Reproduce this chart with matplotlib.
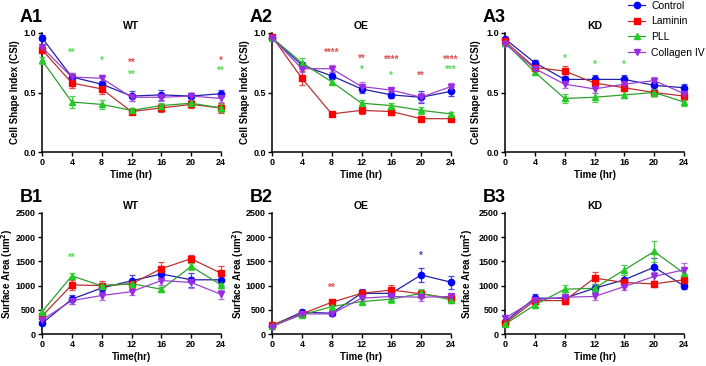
import matplotlib
matplotlib.use("Agg")
import matplotlib.pyplot as plt
from matplotlib.lines import Line2D

plt.rcParams['font.family'] = ['Liberation Sans', 'DejaVu Sans']
plt.rcParams['font.weight'] = 'bold'

time = [0, 4, 8, 12, 16, 20, 24]
series = ['Control', 'Laminin', 'PLL', 'Collagen IV']

# Cell shape index (A row)
csi_wt = {
    'Control':     [0.96, 0.63, 0.57, 0.47, 0.48, 0.47, 0.49],
    'Laminin':     [0.86, 0.58, 0.53, 0.34, 0.37, 0.40, 0.37],
    'PLL':         [0.77, 0.42, 0.40, 0.35, 0.39, 0.41, 0.37],
    'Collagen IV': [0.88, 0.63, 0.62, 0.46, 0.46, 0.47, 0.45],
}
csi_wt_err = {
    'Control':     [0.02, 0.03, 0.03, 0.04, 0.04, 0.03, 0.03],
    'Laminin':     [0.03, 0.04, 0.04, 0.02, 0.03, 0.03, 0.04],
    'PLL':         [0.03, 0.05, 0.04, 0.02, 0.02, 0.02, 0.03],
    'Collagen IV': [0.03, 0.03, 0.03, 0.03, 0.03, 0.03, 0.03],
}
csi_oe = {
    'Control':     [0.96, 0.73, 0.64, 0.53, 0.48, 0.46, 0.51],
    'Laminin':     [0.97, 0.62, 0.32, 0.35, 0.34, 0.28, 0.28],
    'PLL':         [0.96, 0.75, 0.59, 0.41, 0.39, 0.35, 0.32],
    'Collagen IV': [0.96, 0.70, 0.70, 0.55, 0.52, 0.46, 0.55],
}
csi_oe_err = {
    'Control':     [0.02, 0.03, 0.03, 0.03, 0.03, 0.05, 0.04],
    'Laminin':     [0.02, 0.06, 0.02, 0.03, 0.03, 0.02, 0.02],
    'PLL':         [0.02, 0.04, 0.02, 0.03, 0.02, 0.03, 0.02],
    'Collagen IV': [0.02, 0.03, 0.03, 0.04, 0.02, 0.04, 0.03],
}
csi_kd = {
    'Control':     [0.95, 0.75, 0.61, 0.61, 0.61, 0.56, 0.54],
    'Laminin':     [0.93, 0.71, 0.68, 0.58, 0.54, 0.50, 0.47],
    'PLL':         [0.92, 0.67, 0.45, 0.46, 0.48, 0.50, 0.42],
    'Collagen IV': [0.91, 0.70, 0.57, 0.53, 0.57, 0.60, 0.49],
}
csi_kd_err = {
    'Control':     [0.02, 0.02, 0.03, 0.04, 0.04, 0.03, 0.03],
    'Laminin':     [0.02, 0.03, 0.04, 0.04, 0.03, 0.03, 0.03],
    'PLL':         [0.02, 0.02, 0.04, 0.04, 0.03, 0.03, 0.03],
    'Collagen IV': [0.02, 0.02, 0.03, 0.03, 0.03, 0.03, 0.02],
}

# Surface area (B row)
area_wt = {
    'Control':     [220, 720, 950, 1100, 1240, 1120, 1120],
    'Laminin':     [370, 1015, 1000, 1035, 1350, 1555, 1255],
    'PLL':         [460, 1200, 995, 1040, 925, 1395, 1015],
    'Collagen IV': [290, 690, 795, 875, 1105, 1065, 820],
}
area_wt_err = {
    'Control':     [40, 90, 80, 120, 90, 150, 110],
    'Laminin':     [50, 100, 90, 80, 140, 80, 160],
    'PLL':         [50, 70, 60, 70, 50, 80, 110],
    'Collagen IV': [40, 70, 100, 60, 100, 110, 90],
}
area_oe = {
    'Control':     [175, 450, 430, 840, 840, 1220, 1070],
    'Laminin':     [185, 415, 655, 840, 910, 830, 740],
    'PLL':         [175, 395, 565, 670, 720, 840, 705],
    'Collagen IV': [150, 415, 415, 740, 775, 760, 775],
}
area_oe_err = {
    'Control':     [30, 40, 40, 80, 70, 140, 130],
    'Laminin':     [30, 40, 50, 60, 100, 80, 60],
    'PLL':         [30, 40, 50, 60, 80, 90, 60],
    'Collagen IV': [30, 40, 40, 50, 60, 80, 60],
}
area_kd = {
    'Control':     [255, 740, 740, 945, 1120, 1380, 995],
    'Laminin':     [220, 690, 690, 1155, 1065, 1035, 1120],
    'PLL':         [200, 600, 925, 945, 1325, 1705, 1255],
    'Collagen IV': [325, 705, 760, 775, 980, 1190, 1325],
}
area_kd_err = {
    'Control':     [40, 80, 70, 80, 100, 180, 70],
    'Laminin':     [40, 60, 80, 120, 90, 60, 80],
    'PLL':         [40, 60, 90, 90, 110, 220, 110],
    'Collagen IV': [40, 60, 70, 70, 80, 100, 150],
}

# significance marks: (x, y, text, series colour key)
stars_a1 = [(4, 0.83, '**', 'PLL'), (8, 0.77, '*', 'PLL'), (12, 0.75, '**', 'Laminin'),
            (12, 0.65, '**', 'PLL'), (24, 0.77, '*', 'Laminin'), (24, 0.68, '**', 'PLL')]
stars_a2 = [(8, 0.83, '****', 'Laminin'), (12, 0.78, '**', 'Laminin'), (12, 0.69, '*', 'PLL'),
            (16, 0.775, '****', 'Laminin'), (16, 0.64, '*', 'PLL'), (20, 0.64, '**', 'Laminin'),
            (24, 0.775, '****', 'Laminin'), (24, 0.69, '***', 'PLL')]
stars_a3 = [(8, 0.785, '*', 'PLL'), (12, 0.73, '*', 'PLL'), (16, 0.73, '*', 'PLL')]
stars_b1 = [(4, 1570, '**', 'PLL')]
stars_b2 = [(8, 945, '**', 'Laminin'), (20, 1625, '*', 'Collagen IV')]
stars_b3 = []

marker_col = {'Control': '#0000ff', 'Laminin': '#ff0000', 'PLL': '#22cc22', 'Collagen IV': '#9a2be2'}
line_col = {'Control': '#2020a8', 'Laminin': '#b83232', 'PLL': '#2ea02e', 'Collagen IV': '#9a40d0'}
err_col = {'Control': '#4848e0', 'Laminin': '#e04848', 'PLL': '#50cc50', 'Collagen IV': '#b070e0'}
star_col = {'Laminin': '#e05050', 'PLL': '#55dd55', 'Collagen IV': '#6a3aa8'}
markers = {'Control': 'o', 'Laminin': 's', 'PLL': '^', 'Collagen IV': 'v'}

fig = plt.figure(figsize=(7.06, 3.66), dpi=100)

lefts = [42 / 706, 272 / 706, 505 / 706]
w = 179 / 706
# ylabel right edges in pixels, per row/column
ylab_px = [[20, 250, 481], [15, 246, 475]]
panels = [
    ('A1', 'WT', csi_wt, csi_wt_err, stars_a1, 0, 0, 'Time (hr)'),
    ('A2', 'OE', csi_oe, csi_oe_err, stars_a2, 0, 1, 'Time (hr)'),
    ('A3', 'KD', csi_kd, csi_kd_err, stars_a3, 0, 2, 'Time (hr)'),
    ('B1', 'WT', area_wt, area_wt_err, stars_b1, 1, 0, 'Time(hr)'),
    ('B2', 'OE', area_oe, area_oe_err, stars_b2, 1, 1, 'Time (hr)'),
    ('B3', 'KD', area_kd, area_kd_err, stars_b3, 1, 2, 'Time (hr)'),
]

for tag, title, vals, errs, stars, row, col, xlab in panels:
    if row == 0:
        ax = fig.add_axes([lefts[col], 1 - 152 / 366, w, 119 / 366])
    else:
        ax = fig.add_axes([lefts[col], 1 - 334 / 366, w, 121 / 366])
    for s in series:
        ax.errorbar(time, vals[s], yerr=errs[s], color=line_col[s], ecolor=err_col[s],
                    marker=markers[s], mfc=marker_col[s], mec=marker_col[s], ms=4.5,
                    lw=0.9, elinewidth=0.9, capsize=2.5, capthick=0.9,
                    clip_on=False, zorder=3)
    for x, y, t, s in stars:
        ax.text(x, y, t, color=star_col[s], fontsize=7, ha='center', va='center')
    ax.set_xlim(0, 24)
    ax.set_xticks(time)
    if row == 0:
        ax.set_ylim(0, 1.0)
        ax.set_yticks([0.0, 0.5, 1.0])
        ax.set_yticklabels(['0.0', '0.5', '1.0'])
        ax.set_ylabel('Cell Shape Index (CSI)', fontsize=7, fontweight='bold')
    else:
        ax.set_ylim(0, 2500)
        ax.set_yticks([0, 500, 1000, 1500, 2000, 2500])
        ax.set_ylabel('Surface Area (um$^2$)', fontsize=7, fontweight='bold')
    ax.yaxis.set_label_coords((ylab_px[row][col] - lefts[col] * 706) / 179, 0.5)
    ax.set_xlabel(xlab, fontsize=7, fontweight='bold', labelpad=2)
    ax.set_title(title, fontsize=7.5, fontweight='bold', pad=3)
    for sp in ['top', 'right']:
        ax.spines[sp].set_visible(False)
    for sp in ['left', 'bottom']:
        ax.spines[sp].set_linewidth(1.1)
    ax.tick_params(labelsize=6.5, width=1.0, length=3, pad=1.5)
    for lb in ax.get_xticklabels() + ax.get_yticklabels():
        lb.set_fontweight('bold')
    lx = 20 / 706 if col == 0 else (250 / 706 if col == 1 else 483 / 706)
    ly = 1 - 22 / 366 if row == 0 else 1 - 202 / 366
    fig.text(lx, ly, tag, fontsize=13, fontweight='bold', ha='left', va='baseline')

handles = [Line2D([], [], color=line_col[s], marker=markers[s], mfc=marker_col[s],
                  mec=marker_col[s], ms=4.5, lw=0.9) for s in series]
fig.legend(handles, series, loc='upper left', bbox_to_anchor=(624 / 706, 1.01), frameon=False,
           handlelength=1.6, handletextpad=0.6, labelspacing=0.55,
           borderaxespad=0, prop={'weight': 'normal', 'size': 7.5})

fig.savefig('out.png', dpi=100)
